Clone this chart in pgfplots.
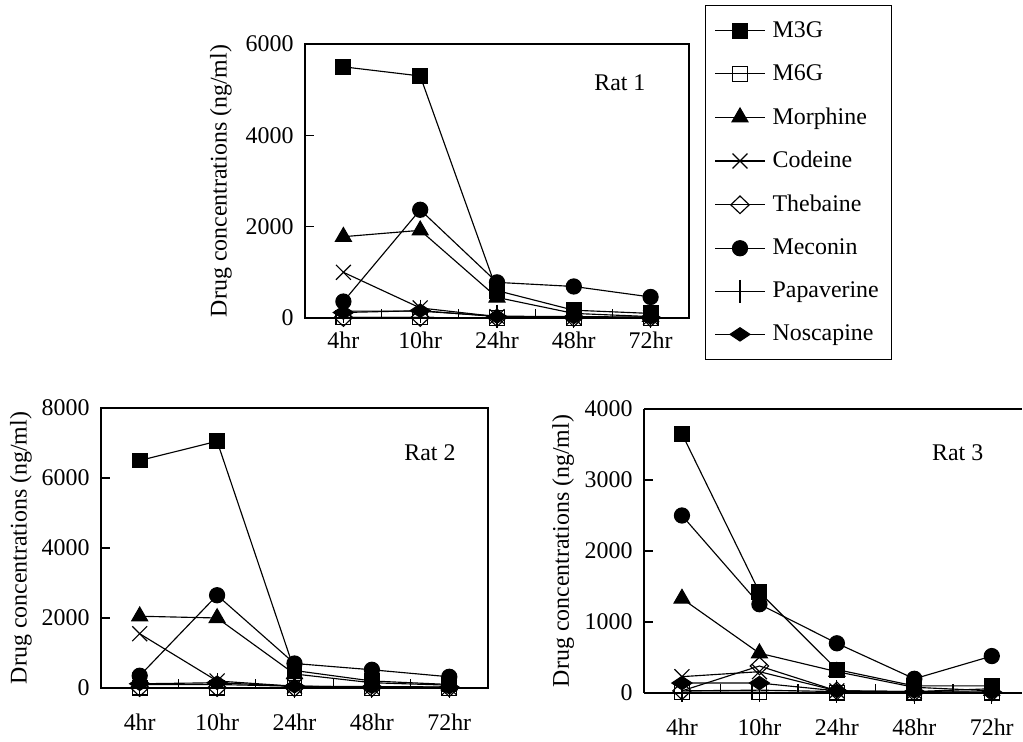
\documentclass[border=0pt]{standalone}
\usepackage{fontspec}
\setmainfont{Liberation Serif}
\usepackage{pgfplots}
\pgfplotsset{compat=1.18}

\newcommand{\fnt}{\fontsize{13.6}{16}\selectfont}

\tikzset{
  sM3G/.style={black, line width=0.65pt, mark=square*, mark size=4.2pt, mark options={solid, fill=black}},
  sM6G/.style={black, line width=0.65pt, mark=square, mark size=4.2pt, mark options={solid, fill=white}},
  sMor/.style={black, line width=0.65pt, mark=triangle*, mark size=5.2pt, mark options={solid, fill=black}},
  sCod/.style={black, line width=0.65pt, mark=x, mark size=6pt, mark options={solid}},
  sThe/.style={black, line width=0.65pt, mark=diamond, mark size=5pt, mark options={solid, fill=white, xscale=1.4}},
  sMec/.style={black, line width=0.65pt, mark=*, mark size=4.3pt, mark options={solid, fill=black}},
  sPap/.style={black, line width=0.65pt, mark=|, mark size=6.5pt, mark options={solid}},
  sNos/.style={black, line width=0.65pt, mark=diamond*, mark size=3.8pt, mark options={solid, fill=black, xscale=2}},
}

\pgfplotsset{
  ratax/.style={
    scale only axis,
    axis line style={line width=0.75pt},
    ymin=0,
    xtick={1,2,3,4,5},
    xticklabels={4hr,10hr,24hr,48hr,72hr},
    major x tick style={draw=none},
    minor xtick={1.5,2.5,3.5,4.5},
    minor tick length=0.17cm,
    major tick length=0.17cm,
    tick align=inside,
    tick style={black, line width=0.75pt},
    xtick pos=bottom, ytick pos=left,
    clip=false,
    font=\fnt,
    tick label style={font=\fnt},
    /pgf/number format/assume math mode=true,
    /pgf/number format/1000 sep={},
    xticklabel style={anchor=center, yshift=-0.68cm},
    yticklabel style={xshift=-3pt},
    ylabel={Drug concentrations (ng/ml)},
    legend image code/.code={\draw[mark repeat=2,mark phase=2,##1] plot coordinates {(0cm,0cm) (0.5cm,0cm) (1.0cm,0cm)};},
  },
}

\begin{document}
\begin{tikzpicture}
% page frame: 1023 x 736 px at 0.02 cm per px
\path (0,0) rectangle (20.46cm,14.72cm);

% Rat 1
\begin{axis}[ratax,
  at={(6.10cm,8.36cm)}, anchor=south west,
  width=7.68cm, height=5.48cm,
  xmin=0.5, xmax=5.5,
  ymax=6000, ytick={0,2000,4000,6000},
  xticklabel style={yshift=0.24cm},
  ylabel style={at={(axis description cs:-0.219,0.5)}, anchor=center},
  legend cell align=left,
  legend style={at={(axis description cs:1.042,1.142)}, anchor=north west,
    draw=black, line width=0.6pt, font=\fnt, row sep=10pt,
    inner xsep=5pt, inner ysep=7pt,
    /tikz/every odd column/.append style={column sep=2pt}},
]
\addplot[sM3G] coordinates {(1,5500) (2,5300) (3,600) (4,170) (5,100)};
\addlegendentry{M3G}
\addplot[sM6G] coordinates {(1,10) (2,10) (3,5) (4,5) (5,5)};
\addlegendentry{M6G}
\addplot[sMor] coordinates {(1,1780) (2,1920) (3,450) (4,100) (5,30)};
\addlegendentry{Morphine}
\addplot[sCod] coordinates {(1,1000) (2,220) (3,30) (4,10) (5,10)};
\addlegendentry{Codeine}
\addplot[sThe] coordinates {(1,10) (2,10) (3,5) (4,5) (5,5)};
\addlegendentry{Thebaine}
\addplot[sMec] coordinates {(1,360) (2,2370) (3,780) (4,690) (5,460)};
\addlegendentry{Meconin}
\addplot[sPap] coordinates {(1,150) (2,150) (3,40) (4,30) (5,20)};
\addlegendentry{Papaverine}
\addplot[sNos] coordinates {(1,120) (2,160) (3,30) (4,20) (5,10)};
\addlegendentry{Noscapine}
\node[font=\fnt] at (axis description cs:0.82,0.86) {Rat 1};
\end{axis}

% Rat 2
\begin{axis}[ratax,
  at={(2.02cm,0.96cm)}, anchor=south west,
  width=7.74cm, height=5.60cm,
  xmin=0.5, xmax=5.5,
  ymax=8000, ytick={0,2000,4000,6000,8000},
  ylabel style={at={(axis description cs:-0.207,0.5)}, anchor=center},
]
\addplot[sM3G] coordinates {(1,6500) (2,7050) (3,500) (4,200) (5,100)};
\addplot[sM6G] coordinates {(1,10) (2,10) (3,5) (4,5) (5,5)};
\addplot[sMor] coordinates {(1,2050) (2,2000) (3,400) (4,150) (5,80)};
\addplot[sCod] coordinates {(1,1550) (2,200) (3,50) (4,20) (5,10)};
\addplot[sThe] coordinates {(1,10) (2,10) (3,5) (4,5) (5,5)};
\addplot[sMec] coordinates {(1,350) (2,2650) (3,700) (4,520) (5,320)};
\addplot[sPap] coordinates {(1,100) (2,100) (3,50) (4,40) (5,30)};
\addplot[sNos] coordinates {(1,120) (2,150) (3,50) (4,30) (5,20)};
\node[font=\fnt] at (axis description cs:0.85,0.84) {Rat 2};
\end{axis}

% Rat 3 (right edge cut off in the reference)
\begin{axis}[ratax,
  at={(12.88cm,0.86cm)}, anchor=south west,
  width=7.56cm, height=5.68cm,
  xmin=0.51, xmax=5.39,
  axis x line*=bottom, axis y line*=left,
  ymax=4000, ytick={0,1000,2000,3000,4000},
  ylabel style={at={(axis description cs:-0.214,0.5)}, anchor=center},
]
\addplot[sM3G] coordinates {(1,3650) (2,1420) (3,330) (4,100) (5,100)};
\addplot[sM6G] coordinates {(1,10) (2,10) (3,5) (4,5) (5,5)};
\addplot[sMor] coordinates {(1,1330) (2,560) (3,300) (4,80) (5,30)};
\addplot[sCod] coordinates {(1,230) (2,300) (3,30) (4,20) (5,60)};
\addplot[sThe] coordinates {(1,30) (2,380) (3,30) (4,10) (5,10)};
\addplot[sMec] coordinates {(1,2500) (2,1250) (3,700) (4,200) (5,520)};
\addplot[sPap] coordinates {(1,30) (2,40) (3,20) (4,10) (5,10)};
\addplot[sNos] coordinates {(1,140) (2,140) (3,30) (4,20) (5,10)};
\draw[line width=0.75pt] (rel axis cs:0,1) -- (rel axis cs:1,1);
\node[font=\fnt] at (axis description cs:0.83,0.845) {Rat 3};
\end{axis}

\end{tikzpicture}
\end{document}
